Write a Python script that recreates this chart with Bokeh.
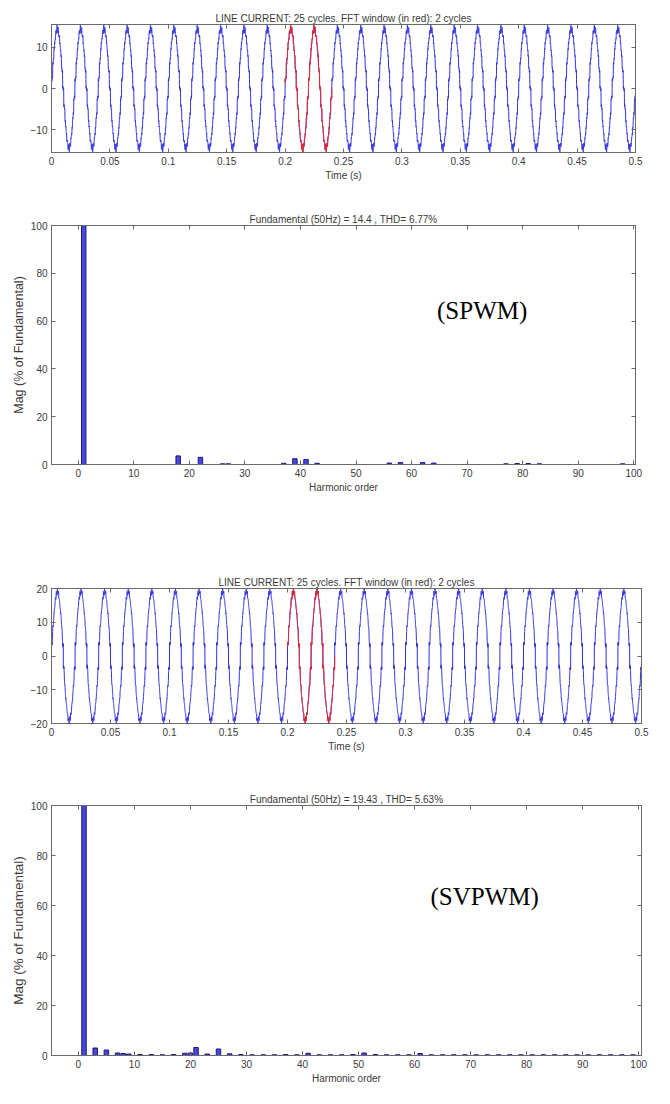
import numpy as np
from bokeh.plotting import figure
from bokeh.models import LinearAxis, Label, Range1d, FixedTicker, Spacer, CustomJSTickFormatter
from bokeh.layouts import column
from bokeh.embed import file_html
from bokeh.resources import INLINE

# ---------------- data ----------------
wave_title = "LINE CURRENT: 25 cycles. FFT window (in red): 2 cycles"
f0 = 50.0
n_cycles = 25
fft_window = [0.2, 0.24]

# SPWM
spwm_fund = 14.4
spwm_title = "Fundamental (50Hz) = 14.4 , THD= 6.77%"
spwm_orders = [1, 18, 22, 26, 27, 37, 39, 41, 43, 56, 58, 62, 64, 77, 79, 81, 83, 98]
spwm_mag = [100, 3.6, 3.0, 0.3, 0.3, 0.5, 2.4, 2.1, 0.5, 0.6, 0.8, 0.8, 0.6, 0.3, 0.4, 0.4, 0.3, 0.3]

# SVPWM
svpwm_fund = 19.43
svpwm_title = "Fundamental (50Hz) = 19.43 , THD= 5.63%"
svpwm_orders = [1, 3, 5, 7, 8, 9, 11, 13, 15, 17, 19, 20, 21, 23, 25, 27, 29, 31, 33, 35,
                37, 39, 41, 43, 45, 47, 49, 51, 53, 55, 57, 59, 61, 63, 65, 67, 69, 71,
                73, 75, 77, 79, 81, 83, 85, 87, 89, 91, 93, 95, 97, 99]
svpwm_mag = [100, 3.0, 2.2, 1.0, 0.8, 0.6, 0.4, 0.4, 0.3, 0.4, 0.9, 1.0, 3.2, 0.6, 2.6, 0.7,
             0.4, 0.3, 0.3, 0.3, 0.4, 0.3, 0.9, 0.3, 0.3, 0.3, 0.4, 1.0, 0.4, 0.3, 0.3, 0.3,
             0.8, 0.3, 0.3, 0.3, 0.3, 0.3, 0.3, 0.3, 0.3, 0.3, 0.3, 0.3, 0.3, 0.3, 0.3, 0.3,
             0.3, 0.3, 0.3, 0.3]

time_ticks = [0, 0.05, 0.1, 0.15, 0.2, 0.25, 0.3, 0.35, 0.4, 0.45, 0.5]
time_tick_labels = ["0", "0.05", "0.1", "0.15", "0.2", "0.25", "0.3", "0.35", "0.4", "0.45", "0.5"]
spwm_wave_ticks = [-10, 0, 10]
svpwm_wave_ticks = [-20, -10, 0, 10, 20]
order_ticks = [0, 10, 20, 30, 40, 50, 60, 70, 80, 90, 100]
mag_ticks = [0, 20, 40, 60, 80, 100]

# ---------------- styling ----------------
FONT = "Liberation Sans"
FRAME = "#6a6a6a"
TXT = "#3a3a3a"
BLUE = "#3030dc"
RED = "#ee2a2a"


def synth(fund, orders, mags, t):
    w = 2 * np.pi * f0
    y = np.zeros_like(t)
    for h, m in zip(orders, mags):
        y += fund * (m / 100.0) * np.sin(h * w * t)
    return y


def style(p, xticks, yticks, xlabels=None):
    bottom = p.below[0]
    left = p.left[0]
    p.outline_line_color = FRAME
    p.outline_line_width = 1
    p.grid.visible = False
    p.title.text_font = FONT
    p.title.text_font_size = "10px"
    p.title.text_font_style = "normal"
    p.title.text_color = TXT
    p.title.align = "center"
    p.title.standoff = 2
    bottom.ticker = FixedTicker(ticks=xticks)
    left.ticker = FixedTicker(ticks=yticks)
    if xlabels is not None:
        bottom.major_label_overrides = {float(k): v for k, v in zip(xticks, xlabels)}
    top = LinearAxis(ticker=FixedTicker(ticks=xticks),
                     formatter=CustomJSTickFormatter(code="return ''"))
    right = LinearAxis(ticker=FixedTicker(ticks=yticks),
                       formatter=CustomJSTickFormatter(code="return ''"))
    p.add_layout(top, "above")
    p.add_layout(right, "right")
    for ax in [bottom, left, top, right]:
        ax.major_tick_in = 4
        ax.major_tick_out = 0
        ax.minor_tick_in = 0
        ax.minor_tick_out = 0
        ax.axis_line_color = FRAME
        ax.major_tick_line_color = FRAME
        ax.major_label_text_font = FONT
        ax.major_label_text_font_size = "10px"
        ax.major_label_text_color = TXT
        ax.major_label_standoff = 4
        ax.axis_label_text_font = FONT
        ax.axis_label_text_font_style = "normal"
        ax.axis_label_text_font_size = "10px"
        ax.axis_label_text_color = TXT
        ax.axis_label_standoff = 2
    top.major_label_standoff = 0
    right.major_label_standoff = 0
    return bottom, left


def wave_fig(width, height, borders, fund, orders, mags, yrange, yticks):
    l, r, tp, b = borders
    p = figure(width=width, height=height, output_backend="svg", toolbar_location=None,
               x_range=Range1d(0, 0.5), y_range=Range1d(*yrange), title=wave_title,
               min_border_left=l, min_border_right=r, min_border_top=tp, min_border_bottom=b)
    t = np.linspace(0, n_cycles / f0, 12001)
    y = synth(fund, orders, mags, t)
    p.line(t, y, line_color=BLUE, line_width=1)
    m = (t >= fft_window[0]) & (t <= fft_window[1])
    p.line(t[m], y[m], line_color=RED, line_width=1)
    bottom, left = style(p, time_ticks, yticks, time_tick_labels)
    bottom.axis_label = "Time (s)"
    return p


def fft_fig(width, height, borders, title, orders, mags, xrange, tag, tagpos, ylab_size):
    l, r, tp, b = borders
    p = figure(width=width, height=height, output_backend="svg", toolbar_location=None,
               x_range=Range1d(*xrange), y_range=Range1d(0, 100), title=title,
               min_border_left=l, min_border_right=r, min_border_top=tp, min_border_bottom=b)
    p.vbar(x=orders, top=mags, bottom=0, width=0.8, fill_color="#4848d8",
           line_color="#1a1a80", line_width=1)
    bottom, left = style(p, order_ticks, mag_ticks)
    bottom.axis_label = "Harmonic order"
    left.axis_label = "Mag (% of Fundamental)"
    left.axis_label_text_font_size = ylab_size
    p.add_layout(Label(x=tagpos[0], y=tagpos[1], text=tag, text_align="center",
                       text_baseline="middle", text_font="Liberation Serif",
                       text_font_size="25px", text_color="black"))
    return p


p1 = wave_fig(654, 200, (42, 19, 24, 48), spwm_fund, spwm_orders, spwm_mag,
              (-15.5, 15.5), spwm_wave_ticks)
p2 = fft_fig(654, 302, (41, 18, 25, 38), spwm_title, spwm_orders, spwm_mag,
             (-4.8, 100.3), "(SPWM)", (72.7, 64.4), "12.5px")
p3 = wave_fig(660, 210, (51, 4, 32, 43), svpwm_fund, svpwm_orders, svpwm_mag,
              (-20, 20), svpwm_wave_ticks)
p4 = fft_fig(660, 320, (44, 6, 39, 29), svpwm_title, svpwm_orders, svpwm_mag,
             (-4.8, 100.5), "(SVPWM)", (72.5, 63.5), "13.5px")

layout = column(p1, p2, Spacer(height=54), p3, p4)

open("out.html", "w").write(file_html(layout, INLINE))
